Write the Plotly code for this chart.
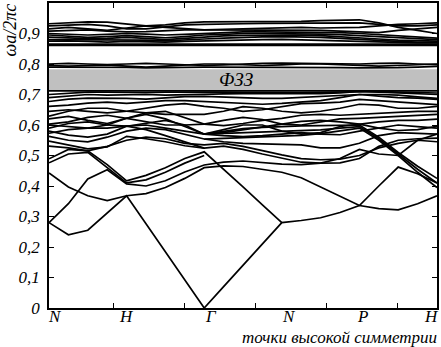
import plotly.graph_objects as go

# k-path sample positions (N, H, Γ, N, P, H at 0..5, step 0.25)
K = [i * 0.25 for i in range(21)]
POINT_LABELS = ["N", "H", "Γ", "N", "P", "H"]
Y_TICKS = [0, 0.1, 0.2, 0.3, 0.4, 0.5, 0.6, 0.7, 0.8, 0.9]
Y_TICK_TEXT = ["0", "0,1", "0,2", "0,3", "0,4", "0,5", "0,6", "0,7", "0,8", "0,9"]
GAP = [0.713, 0.783]

N_ = None
# --- low bands ---
c1 = [0.28, 0.24, 0.255, 0.31, 0.368, 0.276, 0.184, 0.092, 0.0, 0.07, 0.14, 0.21, 0.28,
      0.287, 0.296, 0.313, 0.336, 0.40, 0.462, 0.44, 0.41]
cB = [0.443, 0.397, 0.368, 0.352, 0.368, 0.375, 0.395, 0.425, 0.46, 0.466, 0.464, 0.455, 0.445,
      0.427, 0.397, 0.365, 0.336, 0.326, 0.322, 0.342, 0.368]
c2 = [0.28, 0.342, 0.423, 0.453, 0.407, 0.40, 0.417, 0.446, 0.469, 0.478, 0.482, 0.476, 0.472,
      0.47, 0.475, 0.49, 0.52, 0.505, 0.50, 0.55, 0.57]
c3 = [0.489, 0.52, 0.515, 0.47, 0.417, 0.435, 0.46, 0.49, 0.512, 0.456, 0.397, 0.338, 0.28,
      N_, N_, N_, N_, N_, N_, N_, N_]
c3b = [0.476, 0.505, 0.51, 0.46, 0.41, 0.42, 0.445, 0.475, 0.50, N_, N_, N_, N_,
       N_, N_, N_, N_, N_, N_, N_, N_]
L1 = [0.547, 0.535, 0.522, 0.528, 0.563, 0.555, 0.545, 0.532, 0.524, 0.531, 0.52, 0.505, 0.492,
      0.478, 0.475, 0.476, 0.49, 0.53, 0.55, 0.555, 0.557]
L2 = [0.531, 0.525, 0.515, 0.53, 0.55, 0.56, 0.555, 0.54, 0.535, 0.54, 0.53, 0.515, 0.502,
      0.49, 0.486, 0.488, 0.50, 0.525, 0.54, 0.55, 0.545]
F1 = [N_, N_, N_, N_, N_, N_, N_, N_, 0.57, 0.58, 0.588, 0.592, 0.595,
      0.597, 0.598, 0.60, 0.60, 0.56, 0.51, 0.465, 0.425]
F2 = [N_, N_, N_, N_, N_, N_, N_, N_, 0.57, 0.572, 0.575, 0.578, 0.58,
      0.582, 0.584, 0.59, 0.595, 0.555, 0.505, 0.455, 0.41]
F3 = [N_, N_, N_, N_, N_, N_, N_, N_, 0.554, 0.556, 0.558, 0.56, 0.562,
      0.566, 0.572, 0.58, 0.59, 0.55, 0.50, 0.445, 0.395]
# --- dense bands below the gap ---
D1 = [0.563, 0.55, 0.545, 0.56, 0.58, 0.59, 0.585, 0.57, 0.554, 0.545, 0.54, 0.538, 0.537,
      0.535, 0.525, 0.525, 0.54, 0.565, 0.575, 0.572, 0.57]
D2 = [0.573, 0.585, 0.59, 0.59, 0.596, 0.60, 0.59, 0.58, 0.57, 0.565, 0.562, 0.565, 0.57,
      0.575, 0.57, 0.568, 0.58, 0.59, 0.6, 0.595, 0.59]
D3 = [0.59, 0.605, 0.61, 0.6, 0.596, 0.605, 0.615, 0.6, 0.57, 0.585, 0.6, 0.6, 0.58,
      0.57, 0.575, 0.595, 0.603, 0.61, 0.615, 0.615, 0.619]
D4 = [0.603, 0.61, 0.625, 0.632, 0.622, 0.61, 0.6, 0.6, 0.603, 0.615, 0.625, 0.618, 0.603,
      0.6, 0.61, 0.62, 0.622, 0.625, 0.63, 0.632, 0.635]
D5 = [0.62, 0.628, 0.615, 0.605, 0.622, 0.64, 0.645, 0.625, 0.603, 0.598, 0.605, 0.615, 0.622,
      0.632, 0.635, 0.632, 0.635, 0.64, 0.642, 0.645, 0.645]
D6 = [0.629, 0.645, 0.655, 0.655, 0.645, 0.64, 0.635, 0.635, 0.635, 0.645, 0.66, 0.655, 0.645,
      0.64, 0.645, 0.655, 0.668, 0.665, 0.655, 0.655, 0.661]
D7 = [0.645, 0.65, 0.645, 0.64, 0.645, 0.655, 0.665, 0.67, 0.661, 0.655, 0.645, 0.65, 0.661,
      0.67, 0.672, 0.675, 0.684, 0.68, 0.675, 0.67, 0.667]
D8 = [0.661, 0.665, 0.672, 0.675, 0.671, 0.675, 0.68, 0.68, 0.677, 0.675, 0.67, 0.668, 0.671,
      0.675, 0.68, 0.69, 0.70, 0.695, 0.69, 0.688, 0.684]
D9 = [0.677, 0.685, 0.688, 0.688, 0.687, 0.685, 0.69, 0.693, 0.694, 0.692, 0.688, 0.687, 0.687,
      0.69, 0.695, 0.698, 0.70, 0.70, 0.698, 0.692, 0.687]
D10 = [0.69, 0.695, 0.70, 0.698, 0.70, 0.70, 0.698, 0.70, 0.70, 0.702, 0.703, 0.703, 0.703,
       0.702, 0.703, 0.705, 0.71, 0.708, 0.705, 0.702, 0.70]
D11 = [0.70, 0.705, 0.708, 0.708, 0.706, 0.706, 0.708, 0.708, 0.71, 0.708, 0.707, 0.706, 0.706,
       0.706, 0.707, 0.708, 0.71, 0.71, 0.708, 0.706, 0.705]
D12 = [0.712, 0.712, 0.712, 0.712, 0.712, 0.712, 0.712, 0.712, 0.712, 0.712, 0.712, 0.712, 0.712,
       0.712, 0.712, 0.712, 0.712, 0.712, 0.712, 0.712, 0.712]
E1 = [0.60, 0.595, 0.59, 0.60, 0.622, 0.635, 0.62, 0.595, 0.57, 0.575, 0.585, 0.595, 0.603,
      0.612, 0.615, 0.61, 0.603, 0.59, 0.582, 0.585, 0.596]
E2 = [0.58, 0.567, 0.56, 0.57, 0.596, 0.585, 0.565, 0.545, 0.524, N_, N_, N_, N_,
      N_, N_, N_, N_, N_, N_, N_, N_]
# --- bands above the gap ---
Ua = [0.80, 0.802, 0.80, 0.798, 0.80, 0.802, 0.80, 0.797, 0.795, 0.797, 0.80, 0.802, 0.803,
      0.802, 0.80, 0.80, 0.80, 0.802, 0.803, 0.80, 0.798]
Ub = [0.795, 0.793, 0.795, 0.797, 0.793, 0.79, 0.793, 0.797, 0.80, 0.80, 0.797, 0.795, 0.797,
      0.80, 0.80, 0.797, 0.795, 0.793, 0.795, 0.797, 0.80]
Uc = [0.79, 0.79, 0.788, 0.788, 0.789, 0.787, 0.787, 0.789, 0.79, 0.79, 0.789, 0.789, 0.79,
      0.79, 0.789, 0.788, 0.787, 0.787, 0.788, 0.79, 0.792]
Ud = [0.861] * 21
Ue = [0.865] * 21
U1 = [0.932, 0.936, 0.938, 0.937, 0.930, 0.925, 0.928, 0.935, 0.938, 0.938, 0.94, 0.94, 0.94,
      0.94, 0.942, 0.944, 0.945, 0.935, 0.92, 0.91, 0.90]
U2 = [0.925, 0.928, 0.93, 0.925, 0.915, 0.915, 0.922, 0.928, 0.93, 0.93, 0.932, 0.933, 0.933,
      0.933, 0.934, 0.935, 0.935, 0.93, 0.925, 0.925, 0.928]
U3 = [0.915, 0.92, 0.915, 0.91, 0.918, 0.925, 0.92, 0.915, 0.912, 0.914, 0.916, 0.918, 0.92,
      0.92, 0.918, 0.92, 0.92, 0.925, 0.93, 0.932, 0.935]
U4 = [0.90, 0.898, 0.895, 0.897, 0.90, 0.898, 0.895, 0.897, 0.90, 0.902, 0.905, 0.905, 0.905,
      0.905, 0.904, 0.903, 0.90, 0.896, 0.892, 0.888, 0.885]
U5 = [0.895, 0.89, 0.887, 0.89, 0.893, 0.89, 0.886, 0.89, 0.895, 0.897, 0.9, 0.9, 0.9,
      0.9, 0.898, 0.896, 0.893, 0.889, 0.885, 0.882, 0.88]
U6 = [0.888, 0.885, 0.883, 0.884, 0.887, 0.884, 0.88, 0.884, 0.889, 0.892, 0.894, 0.895, 0.895,
      0.895, 0.893, 0.89, 0.886, 0.882, 0.878, 0.876, 0.875]
U7 = [0.88, 0.88, 0.878, 0.879, 0.88, 0.878, 0.876, 0.878, 0.882, 0.885, 0.888, 0.889, 0.89,
      0.889, 0.887, 0.884, 0.88, 0.877, 0.874, 0.872, 0.872]
U8 = [0.875, 0.876, 0.874, 0.872, 0.874, 0.872, 0.872, 0.874, 0.876, 0.878, 0.88, 0.88, 0.881,
      0.88, 0.878, 0.876, 0.874, 0.872, 0.87, 0.869, 0.869]
U9 = [0.908, 0.91, 0.912, 0.908, 0.905, 0.906, 0.91, 0.912, 0.912, 0.912, 0.91, 0.91, 0.912,
      0.912, 0.91, 0.908, 0.905, 0.903, 0.91, 0.915, 0.92]

BANDS = [c1, cB, c2, c3, c3b, L1, L2, F1, F2, F3, D1, D2, D3, D4, D5, D6, D7, D8, D9, D10,
         D11, D12, E1, E2, Ua, Ub, Uc, Ud, Ue, U1, U2, U3, U4, U5, U6, U7, U8, U9]

SERIF = "Liberation Serif, Times New Roman, serif"

fig = go.Figure()
for b in BANDS:
    fig.add_trace(go.Scatter(x=K, y=b, mode="lines", line=dict(color="black", width=1.7),
                             connectgaps=False, showlegend=False, hoverinfo="skip"))

fig.add_shape(type="rect", xref="paper", yref="y", x0=0, x1=1, y0=GAP[0], y1=GAP[1],
              fillcolor="#c0c0c0", line=dict(width=0), layer="below")

fig.add_annotation(x=2.41, y=(GAP[0] + GAP[1]) / 2, xref="x", yref="y", text="<i>ФЗЗ</i>",
                   showarrow=False, font=dict(family=SERIF, size=19, color="black"))

shifts = [6, 0, 7, 7, 3, -6]
for i, lab in enumerate(POINT_LABELS):
    fig.add_annotation(x=i, y=0, xref="x", yref="y", text="<i>" + lab + "</i>", showarrow=False,
                       xanchor="center", yanchor="top", yshift=3, xshift=shifts[i],
                       font=dict(family=SERIF, size=17, color="black"))

fig.add_annotation(x=1, y=0, xref="paper", yref="paper", text="<i>точки высокой симметрии</i>",
                   showarrow=False, xanchor="right", yanchor="top", yshift=-18, xshift=2,
                   font=dict(family=SERIF, size=17, color="black"))
fig.add_annotation(x=0, y=1, xref="paper", yref="paper", text="<i>ωa/2πc</i>", textangle=-90,
                   showarrow=False, xanchor="center", yanchor="top", xshift=-40, yshift=1,
                   font=dict(family=SERIF, size=18, color="black"))

fig.update_xaxes(range=[0, 5], showgrid=False, zeroline=False, showline=True, linecolor="black",
                 linewidth=1.5, mirror="allticks", ticks="", showticklabels=False,
                 tickvals=[0, 1, 2, 3, 4, 5],
                 minor=dict(ticks="inside", tick0=0.825, dtick=0.915, ticklen=5, tickcolor="black",
                            tickwidth=1))
fig.update_yaxes(range=[0, 1.0], showgrid=False, zeroline=False, showline=True, linecolor="black",
                 linewidth=1.5, mirror="allticks", ticks="inside", ticklen=5, tickcolor="black",
                 tickvals=Y_TICKS, ticktext=["<i>" + t + "</i>" for t in Y_TICK_TEXT],
                 ticklabelstandoff=4,
                 tickfont=dict(family=SERIF, size=17, color="black"))

fig.update_layout(width=441, height=347, margin=dict(l=49, r=4, t=1, b=39),
                  paper_bgcolor="white", plot_bgcolor="white")

fig.write_html("out.html", config={"displayModeBar": False},
               post_script="document.body.style.margin='0';")
